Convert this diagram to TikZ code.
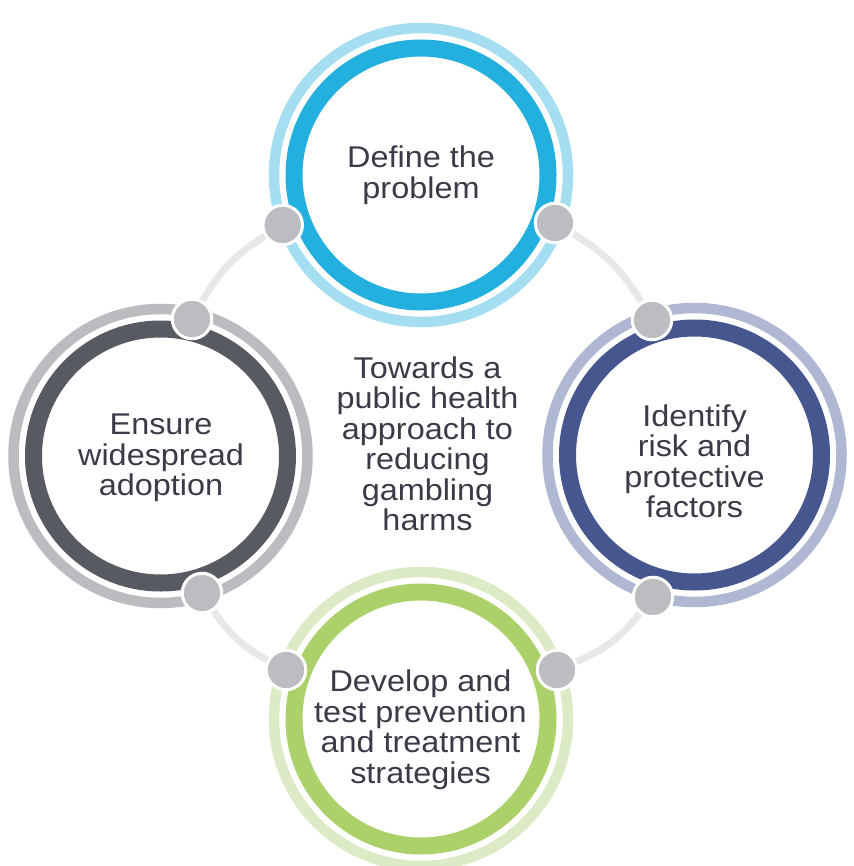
\documentclass[tikz,border=0pt]{standalone}
\usepackage{fontspec}
\setmainfont[FakeStretch=1.08]{Liberation Sans}
\definecolor{tlight}{HTML}{A6DEF1}
\definecolor{tdark}{HTML}{23B0DF}
\definecolor{rlight}{HTML}{B0B7D2}
\definecolor{rdark}{HTML}{46578F}
\definecolor{blight}{HTML}{DCEBC5}
\definecolor{bdark}{HTML}{ADD16A}
\definecolor{llight}{HTML}{BBBCBF}
\definecolor{ldark}{HTML}{575B61}
\definecolor{connc}{HTML}{E8E8E9}
\definecolor{dotc}{HTML}{BCBDC0}
\definecolor{txt}{HTML}{3A3B47}
\begin{document}
\begin{tikzpicture}[x=1pt,y=-1pt,
  outerring/.style={line width=10.5pt},
  innerring/.style={line width=17pt},
  dotnode/.style={circle,inner sep=0pt,minimum size=39.5pt,fill=dotc,draw=white,line width=3pt},
  conn/.style={draw=connc,line width=7pt},
  label/.style={text=txt,align=center,inner sep=0pt,font=\fontsize{30pt}{30.5pt}\selectfont}]
\useasboundingbox (0,0) rectangle (853,866);
% stage centres
\coordinate (T) at (421,175);
\coordinate (L) at (160.5,456);
\coordinate (R) at (694.5,455);
\coordinate (B) at (421,719);
% circles
\foreach \c/\lc/\dc in {T/tlight/tdark, L/llight/ldark, R/rlight/rdark, B/blight/bdark}{
  \fill[white] (\c) circle[radius=153pt];
  \draw[outerring,color=\lc] (\c) circle[radius=147pt];
  \draw[innerring,color=\dc] (\c) circle[radius=127pt];
}
% dots
\node[dotnode] (d1) at (282.7,225) {};
\node[dotnode] (d2) at (555,223) {};
\node[dotnode] (d3) at (192,319) {};
\node[dotnode] (d4) at (652,320) {};
\node[dotnode] (d5) at (202,593) {};
\node[dotnode] (d6) at (653,597) {};
\node[dotnode] (d7) at (286,670) {};
\node[dotnode] (d8) at (557,670) {};
% connectors
\draw[conn] (d1) to[bend right=14] (d3);
\draw[conn] (d2) to[bend left=14] (d4);
\draw[conn] (d5) to[bend right=14] (d7);
\draw[conn] (d6) to[bend left=14] (d8);
% texts
\node[label] (tT) at (421,175.3) {Define the\\problem};
\node[label] (tL) at (161,457.9) {Ensure\\widespread\\adoption};
\node[label] (tR) at (694.5,461.1) {Identify\\risk and\\protective\\factors};
\node[label] (tB) at (420.5,729.9) {Develop and\\test prevention\\and treatment\\strategies};
\node[label] (tC) at (427.5,443.8) {Towards a\\public health\\approach to\\reducing\\gambling\\harms};
\end{tikzpicture}
\end{document}
